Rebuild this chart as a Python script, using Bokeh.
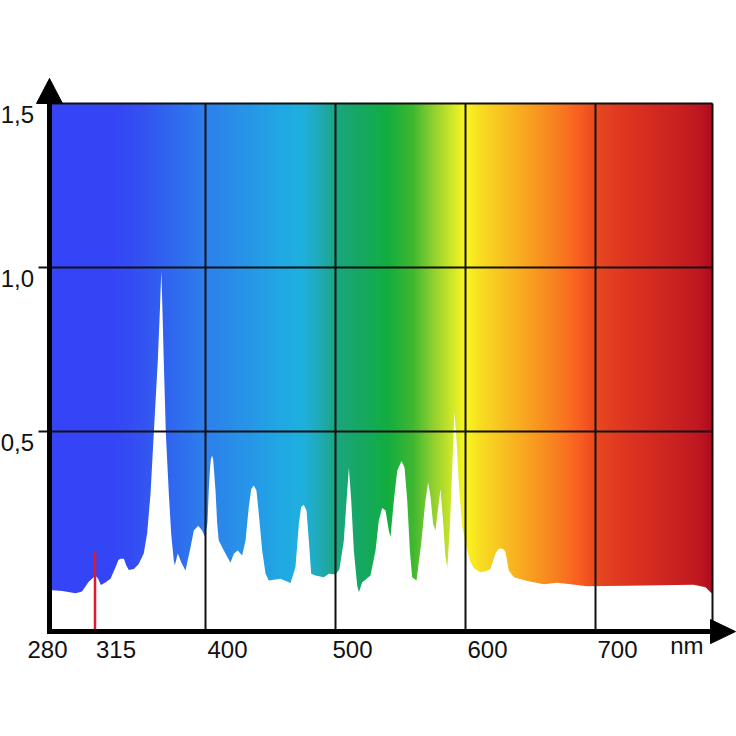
import numpy as np
from bokeh.plotting import figure
from bokeh.models import ColumnDataSource
from bokeh.core.properties import value
from bokeh.embed import file_html
from bokeh.resources import INLINE

# ---------------- data ----------------
wavelength = [280, 290, 300, 305, 310, 315.4, 317.5, 319.5, 323, 326.9, 330.8, 333, 334.6,
              337.2, 339, 341, 344.9, 348.5, 352.5, 355.1, 357.7, 360.2, 363.3, 364.9, 366,
              366.9, 367.9, 369.5, 371.8, 373.6, 375.6, 376.4, 378.7, 381.5, 384.6, 388.5,
              391, 394.4, 397.4, 399.5, 401.5, 402.5, 403.5, 404.1, 405.1, 405.9, 407.7, 409,
              410.2, 414.1, 419.2, 421.8, 424.8, 428.2, 430.8, 433.3, 435.2, 437.2, 439.2,
              441, 443.6, 446.2, 448.7, 457.7, 465.4, 469.2, 471.8, 473.6, 475.6, 477.7,
              479.5, 481.3, 484.6, 491, 494.9, 500, 503, 506.4, 508.5, 510.3, 512.1, 514.1,
              516.7, 518, 520.5, 526.9, 530.8, 533.3, 535.9, 538.5, 541, 542.3, 544.9, 547.5,
              550.8, 553.1, 555.2, 557.2, 559, 562.3, 565.9, 569.2, 571.3, 573.1, 575.1,
              576.9, 578.7, 580.8, 582.5, 584.6, 586, 588, 589.8, 591.5, 593.1, 594.9, 597.5,
              601.3, 603.5, 606.5, 611.5, 616, 619.2, 623, 625, 627, 629.5, 630.8, 633.3,
              637.2, 647.5, 660.2, 670.5, 680.8, 693.6, 724, 775.6, 784.6, 788.5, 790]
intensity = [0.017, 0.014, 0.007, 0.012, 0.041, 0.061, 0.050, 0.032, 0.040, 0.051, 0.086, 0.108,
             0.112, 0.112, 0.092, 0.078, 0.081, 0.095, 0.128, 0.189, 0.31, 0.493, 0.716, 0.869,
             0.99, 0.869, 0.716, 0.493, 0.31, 0.189, 0.107, 0.092, 0.128, 0.100, 0.076, 0.147,
             0.198, 0.213, 0.198, 0.180, 0.22, 0.32, 0.39, 0.415, 0.427, 0.415, 0.32, 0.219,
             0.168, 0.137, 0.100, 0.127, 0.137, 0.122, 0.168, 0.27, 0.325, 0.335, 0.32,
             0.249, 0.137, 0.066, 0.046, 0.051, 0.038, 0.086, 0.219, 0.27, 0.277, 0.259,
             0.168, 0.066, 0.061, 0.056, 0.066, 0.064, 0.080, 0.168, 0.29, 0.39, 0.29, 0.137,
             0.030, 0.010, 0.040, 0.061, 0.137, 0.229, 0.267, 0.259, 0.198, 0.178, 0.29, 0.381,
             0.41, 0.39, 0.29, 0.137, 0.056, 0.046, 0.158, 0.29, 0.345, 0.30, 0.219,
             0.198, 0.259, 0.325, 0.239, 0.117, 0.086, 0.208, 0.39, 0.56, 0.473, 0.34, 0.208,
             0.137, 0.105, 0.083, 0.071, 0.075, 0.081, 0.127, 0.140, 0.144, 0.140, 0.132, 0.076,
             0.056, 0.044, 0.034, 0.039, 0.034, 0.028, 0.030, 0.033, 0.025, 0.010, 0.005]

x_ticks = [280, 315, 400, 500, 600, 700]
x_tick_labels = ["280", "315", "400", "500", "600", "700"]
y_ticks = [0.5, 1.0, 1.5]
y_tick_labels = ["0,5", "1,0", "1,5"]
grid_x = [400, 500, 600, 700]
grid_y = [0.5, 1.0]
uv_marker = [315]
uv_marker_top = [0.132]
unit_label = "nm"

X_MIN, X_MAX = 280, 790
Y_MIN, Y_MAX = -0.11, 1.5

# ---------------- styling ----------------
stop_nm = [280, 330, 350, 380, 400, 430, 460, 475, 490, 500, 520, 540, 560, 575, 590, 600,
           610, 630, 650, 670, 690, 700, 720, 750, 780, 790]
stop_hex = ["#3444f6", "#3446f6", "#3452f2", "#2f6eee", "#2e80ec", "#2894e8", "#20aae4",
            "#1fb0dd", "#20aab0", "#1aa680", "#16a862", "#12ae40", "#40b830", "#90d030",
            "#d0e828", "#fcf820", "#f8e020", "#f8c020", "#f8a020", "#f88020", "#f85a20",
            "#e84a20", "#e03820", "#d02820", "#c01820", "#b00a20"]

PX_PER_NM = 1.3
PX_PER_UNIT = 328.0
W = H = 736
x_start = X_MIN - 49 / PX_PER_NM
x_end = x_start + W / PX_PER_NM
y_top = 595 / PX_PER_UNIT
y_bot = y_top - H / PX_PER_UNIT

FONT = value("Liberation Sans")

p = figure(width=W, height=H, x_range=(x_start, x_end), y_range=(y_bot, y_top),
           x_axis_location=None, y_axis_location=None, toolbar_location=None,
           output_backend="svg", min_border=0, title=None)
p.outline_line_color = None
p.background_fill_color = "white"
p.border_fill_color = "white"
p.grid.visible = False

# gradient background
ncols = 663
cols = np.linspace(X_MIN, X_MAX, ncols)
rgb = np.array([[int(h[i:i + 2], 16) for i in (1, 3, 5)] for h in stop_hex], dtype=float)
img = np.empty((1, ncols), dtype=np.uint32)
view = img.view(dtype=np.uint8).reshape((1, ncols, 4))
for c in range(3):
    view[0, :, c] = np.interp(cols, stop_nm, rgb[:, c]).astype(np.uint8)
view[0, :, 3] = 255
p.image_rgba(image=[img], x=X_MIN, y=Y_MIN, dw=X_MAX - X_MIN, dh=Y_MAX - Y_MIN)

# white spectrum area
p.varea(x=wavelength, y1=Y_MIN, y2=intensity, fill_color="white", fill_alpha=1.0)

# grid lines
p.segment(x0=grid_x, y0=Y_MIN, x1=grid_x, y1=Y_MAX, line_color="#111111", line_width=2)
tick_left = X_MIN - 11 / PX_PER_NM
p.segment(x0=tick_left, y0=grid_y, x1=X_MAX, y1=grid_y, line_color="#111111", line_width=2)
# frame top and right
p.segment(x0=[X_MIN], y0=[Y_MAX], x1=[X_MAX], y1=[Y_MAX], line_color="#111111", line_width=2)
p.segment(x0=[X_MAX], y0=[Y_MIN], x1=[X_MAX], y1=[Y_MAX], line_color="#111111", line_width=2)

# UV marker
p.segment(x0=uv_marker, y0=Y_MIN, x1=uv_marker, y1=uv_marker_top, line_color="#e01a2c",
          line_width=2.5)

# axes with arrowheads
arrow_half_w = 13 / PX_PER_NM
arrow_len_y = 25 / PX_PER_UNIT
arrow_half_h = 12 / PX_PER_UNIT
x_arrow_base = X_MIN + 661 / PX_PER_NM
x_arrow_tip = X_MIN + 686 / PX_PER_NM
p.segment(x0=[X_MIN], y0=[Y_MIN - 2.5 / PX_PER_UNIT], x1=[X_MIN], y1=[Y_MAX],
          line_color="black", line_width=5)
p.segment(x0=[X_MIN - 2.5 / PX_PER_NM], y0=[Y_MIN], x1=[x_arrow_base], y1=[Y_MIN],
          line_color="black", line_width=5)
p.patches(xs=[[X_MIN - arrow_half_w, X_MIN + arrow_half_w, X_MIN],
              [x_arrow_base, x_arrow_base, x_arrow_tip]],
          ys=[[Y_MAX, Y_MAX, Y_MAX + arrow_len_y],
              [Y_MIN - arrow_half_h, Y_MIN + arrow_half_h, Y_MIN]],
          fill_color="black", line_color="black", line_width=1)

# y labels
p.text(x=X_MIN, y=y_ticks, text=y_tick_labels, x_offset=-15.5, y_offset=10.5,
       text_align="right", text_baseline="middle", text_font=FONT,
       text_font_size="24px", text_color="#111111")

# x labels
label_dx = [-22, 1, 2, -3, 2, 2]
xsrc = ColumnDataSource(dict(x=x_ticks, text=x_tick_labels, dx=label_dx))
p.text(x="x", y=Y_MIN, text="text", x_offset="dx", y_offset=18, source=xsrc,
       text_align="left", text_baseline="middle", text_font=FONT,
       text_font_size="24px", text_color="#111111")
p.text(x=[X_MAX], y=[Y_MIN], text=[unit_label], x_offset=-9, y_offset=14,
       text_align="right", text_baseline="middle", text_font=FONT,
       text_font_size="24px", text_color="#111111")

open("out.html", "w").write(file_html(p, INLINE))
